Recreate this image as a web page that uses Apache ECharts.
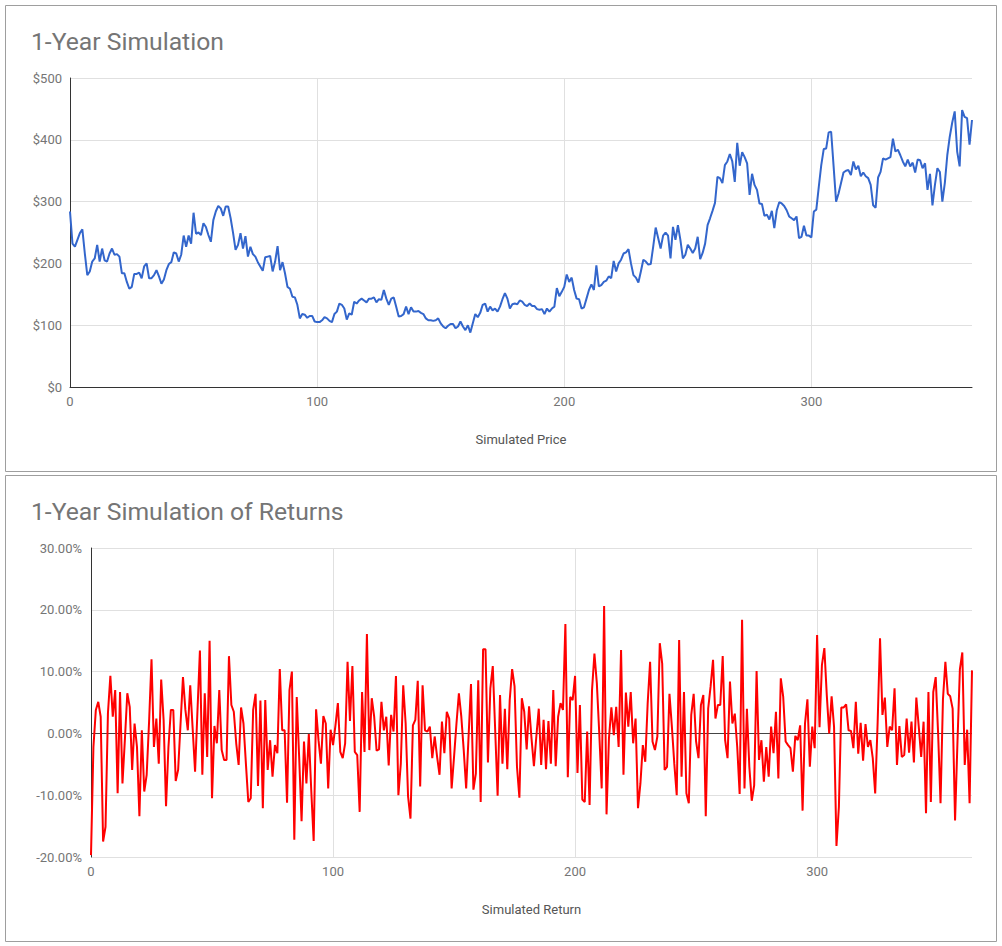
<!DOCTYPE html>
<html>
<head>
<meta charset="utf-8">
<script src="https://cdn.jsdelivr.net/npm/echarts@6/dist/echarts.min.js"></script>
<style>
html,body{margin:0;padding:0;background:#fff;}
#c{width:1002px;height:946px;}
</style>
</head>
<body>
<div id="c"></div>
<script>
const priceTitle = '1-Year Simulation';
const returnTitle = '1-Year Simulation of Returns';
const priceAxisName = 'Simulated Price';
const returnAxisName = 'Simulated Return';

const price = [
284,232,227,238,249,255,216,181,187,203,208,230,203,224,205,203,216,224,214,215,
211,184,184,170,159,162,183,183,185,176,195,200,176,176,181,189,179,167,174,189,
199,202,218,216,203,214,245,227,245,232,282,248,250,246,265,259,246,235,270,284,
293,289,277,292,292,273,249,222,230,249,224,244,211,227,215,211,202,195,188,210,
211,212,187,203,228,189,202,184,162,159,146,145,133,111,118,117,112,115,115,106,
105,105,108,113,111,107,105,118,122,135,133,127,109,119,117,138,135,140,143,140,
137,143,143,145,137,142,141,157,143,133,143,145,130,114,115,118,130,118,129,122,
122,123,120,118,111,108,108,107,108,111,103,98,95,99,102,102,95,98,106,98,
92,100,88,103,118,113,120,133,135,122,130,124,127,122,130,142,152,143,127,134,
135,134,140,138,133,131,135,131,131,126,125,126,118,127,122,127,130,160,147,154,
162,182,170,177,157,143,142,127,129,143,157,166,157,197,163,165,170,172,179,176,
204,187,200,206,216,218,223,200,181,177,169,187,206,203,198,199,227,258,241,224,
245,250,245,208,259,238,262,238,208,214,230,224,217,224,243,207,217,232,262,273,
285,298,340,338,330,359,365,377,365,332,395,358,380,372,362,311,345,327,319,297,
296,277,279,271,285,257,286,299,297,293,286,276,273,270,276,241,243,261,245,245,
242,284,287,324,359,385,386,412,413,357,300,313,330,347,350,351,343,365,352,358,
341,347,341,338,327,294,290,339,348,370,368,370,372,402,381,384,375,365,357,368,
357,363,347,368,367,354,362,319,345,294,327,354,348,300,330,375,405,428,446,381,
357,448,437,435,392,432
];

const returns = [
-19.7,-2.2,3.8,5.1,2.7,-17.5,-15.1,3.3,9.3,2.7,7.0,-9.7,6.7,-8.1,-1.0,6.5,4.3,-5.9,1.6,-2.2,
-13.4,0.5,-9.4,-6.7,1.9,12.0,-2.2,2.4,-4.9,8.7,2.2,-11.8,-2.2,3.8,3.8,-7.7,-5.9,1.6,9.1,3.8,
0.5,7.8,0.8,-6.2,3.8,13.4,-6.7,6.5,-3.8,15.0,-10.5,1.2,-1.6,7.0,-2.7,-4.3,-4.3,12.5,4.6,3.5,
-1.6,-5.1,4.2,1.6,-4.9,-11.1,-10.5,3.8,6.4,-8.5,5.3,-12.1,5.4,-5.9,-1.1,-7.0,-1.9,-3.2,10.4,0.5,
0.5,-11.2,7.0,10.0,-17.2,5.9,-3.8,-14.2,-1.3,-8.1,-0.1,-9.2,-17.4,3.9,-1.1,-4.9,2.8,1.6,-8.9,0.6,
-1.9,1.3,4.9,-3.0,-4.0,-1.6,11.6,2.0,10.9,-3.0,-3.5,-12.7,6.7,-3.0,16.1,-2.7,5.7,2.7,-2.8,-2.6,
5.1,0.5,2.7,-5.2,3.0,0.3,9.3,-10.0,-4.9,7.8,1.6,-10.2,-13.8,1.3,2.2,8.5,-8.6,7.8,0.5,0.3,
1.1,-4.0,-0.5,-3.8,-6.7,1.9,-3.2,3.5,2.4,-8.9,-3.8,1.6,6.5,2.7,-2.7,-8.9,-0.5,8.0,-9.1,-6.5,
8.6,-11.1,13.6,13.6,-4.7,7.3,10.9,0.5,-10.1,6.2,-4.9,4.0,-5.8,5.4,10.4,7.6,-5.4,-10.4,5.7,3.5,
-2.6,4.4,-0.8,-5.3,-0.5,4.0,-5.1,2.2,-5.8,2.0,-4.9,7.0,-5.3,2.7,4.9,3.8,17.7,-7.1,5.9,5.4,
9.3,-6.4,4.6,-10.7,-11.1,0.3,-11.6,7.0,12.9,8.1,0.0,-8.9,20.6,-13.1,-0.8,4.2,-0.3,4.3,-2.2,13.5,
-6.7,6.6,1.1,6.7,-1.6,2.4,-12.1,-8.1,-1.9,-4.6,4.9,11.6,-1.3,-2.7,-0.5,14.6,11.3,-5.9,-5.4,6.4,
1.1,-4.9,-10.0,15.1,-7.0,6.7,-9.7,-11.3,3.0,6.4,-1.3,-4.0,4.6,6.2,-13.4,4.0,7.6,11.9,2.4,4.6,
4.6,12.5,-1.1,-4.0,8.4,1.6,3.2,-2.2,-9.8,18.4,-8.9,4.0,-5.4,-10.9,-8.4,10.1,-4.3,-1.1,-7.8,-2.2,
-7.0,1.1,-3.2,3.5,-7.3,8.9,5.9,-1.3,-1.9,-2.4,-6.2,-0.4,-1.1,1.3,-12.5,1.6,5.5,-5.4,1.1,-2.4,
15.9,1.0,11.1,13.8,6.2,0.0,6.0,1.1,-18.2,-11.9,4.2,4.2,4.7,0.5,0.4,-2.4,5.1,-3.3,1.7,-4.4,
1.5,-2.2,-1.1,-4.0,-9.7,1.6,15.4,3.0,5.8,-2.2,1.1,0.5,7.3,-5.1,1.2,-3.8,-3.5,2.4,-3.1,1.9,
-4.7,5.8,1.1,-3.8,1.9,-12.9,6.7,-11.1,6.7,9.1,0.0,-11.3,5.5,11.6,6.4,6.0,4.0,-14.1,-1.3,10.4,
13.1,-5.1,0.6,-11.3,10.2
];

const xTicks = [0, 100, 200, 300];
const priceTicks = [0, 100, 200, 300, 400, 500];
const returnTicks = [-20, -10, 0, 10, 20, 30];

const FONT = 'Roboto, "Noto Sans", sans-serif';
const LABEL = '#757575';
const GRID = '#e0e0e0';
const AXIS = '#333333';

const chart = echarts.init(document.getElementById('c'), null, {renderer: 'svg'});

function xAxisFor(gridIndex, maxX, name, showLine) {
  return {
    type: 'value', gridIndex: gridIndex, min: 0, max: maxX, interval: 100,
    name: name, nameLocation: 'middle', nameGap: 46,
    nameTextStyle: {color: '#555555', fontSize: 13, fontFamily: FONT},
    axisLine: {show: showLine, onZero: false, lineStyle: {color: AXIS, width: 1}},
    axisTick: {show: false},
    axisLabel: {color: LABEL, fontSize: 13, fontFamily: FONT, margin: 8, showMaxLabel: false},
    splitLine: {show: true, showMinLine: false, showMaxLine: false, lineStyle: {color: GRID, width: 1}}
  };
}

chart.setOption({
  animation: false,
  textStyle: {fontFamily: FONT},
  graphic: [
    {type: 'rect', shape: {x: 5.5, y: 5.5, width: 991, height: 466}, style: {fill: 'none', stroke: '#9e9e9e', lineWidth: 1}, z: -10},
    {type: 'rect', shape: {x: 5.5, y: 475.5, width: 991, height: 466}, style: {fill: 'none', stroke: '#9e9e9e', lineWidth: 1}, z: -10}
  ],
  title: [
    {text: priceTitle, left: 31, top: 29, padding: 0, textStyle: {color: LABEL, fontSize: 24.7, fontWeight: 'normal', fontFamily: FONT}},
    {text: returnTitle, left: 31, top: 499, padding: 0, textStyle: {color: LABEL, fontSize: 24.7, fontWeight: 'normal', fontFamily: FONT}}
  ],
  grid: [
    {left: 70, right: 30, top: 78, height: 309},
    {left: 91, right: 30, top: 548, height: 309}
  ],
  xAxis: [
    xAxisFor(0, price.length - 1, priceAxisName, true),
    xAxisFor(1, returns.length - 1, returnAxisName, false)
  ],
  yAxis: [
    {
      type: 'value', gridIndex: 0, min: priceTicks[0], max: priceTicks[priceTicks.length - 1], interval: 100,
      axisLine: {show: true, lineStyle: {color: AXIS, width: 1}},
      axisTick: {show: false},
      axisLabel: {color: LABEL, fontSize: 13, fontFamily: FONT, margin: 8, formatter: v => '$' + v},
      splitLine: {show: true, lineStyle: {color: GRID, width: 1}}
    },
    {
      type: 'value', gridIndex: 1, min: returnTicks[0], max: returnTicks[returnTicks.length - 1], interval: 10,
      axisLine: {show: true, lineStyle: {color: AXIS, width: 1}},
      axisTick: {show: false},
      axisLabel: {color: LABEL, fontSize: 13, fontFamily: FONT, margin: 9, formatter: v => v.toFixed(2) + '%'},
      splitLine: {show: true, lineStyle: {color: returnTicks.map(t => t === 0 ? '#444444' : GRID), width: 1}}
    }
  ],
  series: [
    {
      type: 'line', xAxisIndex: 0, yAxisIndex: 0, showSymbol: false, smooth: false,
      lineStyle: {color: '#3366cc', width: 2}, itemStyle: {color: '#3366cc'},
      data: price.map((v, i) => [i, v])
    },
    {
      type: 'line', xAxisIndex: 1, yAxisIndex: 1, showSymbol: false, smooth: false,
      lineStyle: {color: '#ff0000', width: 2}, itemStyle: {color: '#ff0000'},
      data: returns.map((v, i) => [i, v])
    }
  ]
});
</script>
</body>
</html>
